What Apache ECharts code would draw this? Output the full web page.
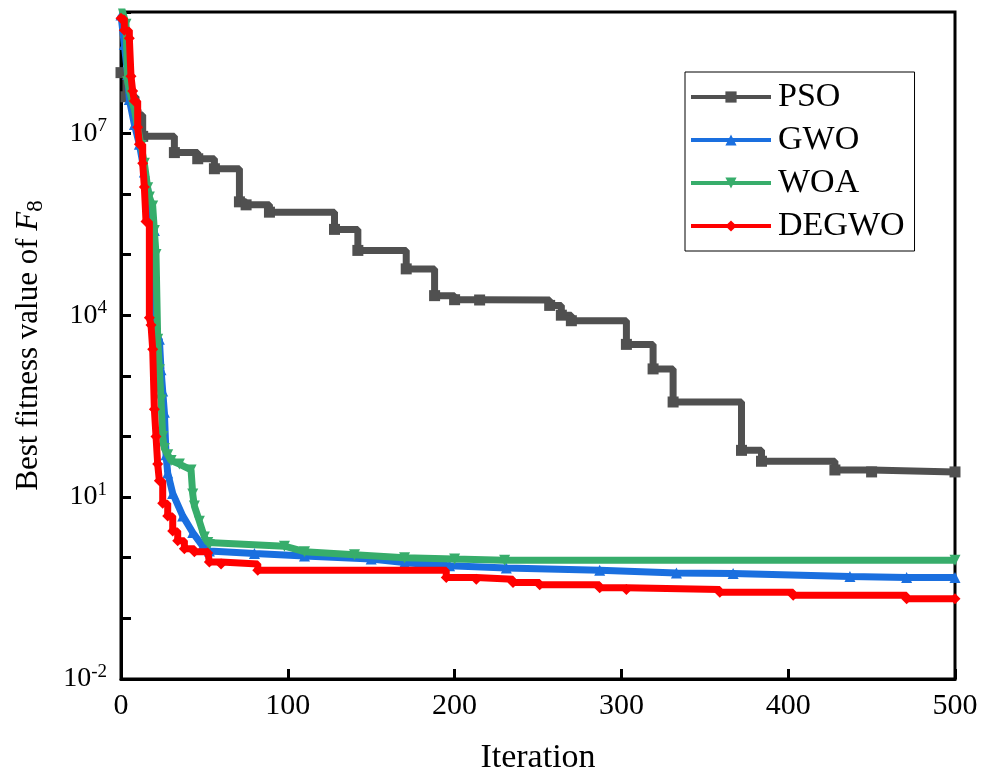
<!DOCTYPE html>
<html><head><meta charset="utf-8">
<script src="https://cdn.jsdelivr.net/npm/echarts@6/dist/echarts.min.js"></script>
<style>html,body{margin:0;padding:0;background:#fff}#c{width:992px;height:780px}</style>
</head><body><div id="c"></div>
<script>
// [iteration, best fitness] read at change points
const psoData = [[0,1.0e8],[3,4.0e7],[9,2.0e7],[13,8.9e6],[32,4.8e6],[46,3.8e6],[56,2.6e6],[71,7.4e5],[75,6.6e5],[89,5.0e5],[128,2.6e5],[142,1.17e5],[171,5.8e4],[188,2.1e4],[200,1.8e4],[215,1.78e4],[257,1.45e4],[264,1.0e4],[270,8.1e3],[303,3.3e3],[319,1.3e3],[331,370],[372,59],[384,39],[428,28],[450,26],[500,26]];
const gwoData = [[0,8.9e8],[2,2.9e8],[4,9.3e7],[5,3.6e7],[8,1.4e7],[11,6.6e6],[14,2.3e6],[16,1.2e6],[19,2.7e5],[20,2.5e5],[21,4.3e3],[23,4.0e3],[24,1260],[25,560],[26,250],[27,50],[28,25],[31,11.5],[37,4.9],[43,2.6],[49,1.55],[53,1.29],[80,1.17],[110,1.07],[150,0.95],[170,0.83],[197,0.74],[231,0.68],[287,0.62],[333,0.56],[367,0.55],[437,0.49],[471,0.47],[500,0.47]];
const woaData = [[0,1.26e9],[3,6.3e8],[4,7.1e7],[6,4.0e7],[8,2.5e7],[12,6.3e6],[14,3.2e6],[16,1.26e6],[17,8.9e5],[19,6.3e5],[20,2.5e5],[21,1.0e5],[22,4.0e3],[23,1260],[24,400],[25,100],[26,63],[28,50],[30,40],[35,35],[42,28],[43,11.2],[44,7.1],[47,4.0],[50,2.2],[52,1.78],[53,1.66],[98,1.55],[110,1.26],[140,1.12],[170,1.0],[200,0.95],[230,0.91],[500,0.91]];
const degwoData = [[0,7.9e8],[2,5.0e8],[5,3.7e8],[6,8.7e7],[7,5.0e7],[8,3.4e7],[10,1.26e7],[11,6.6e6],[13,3.2e6],[14,1.3e6],[15,3.5e5],[17,9.1e3],[18,6.9e3],[19,2.75e3],[20,280],[21,100],[22,35],[23,18.6],[25,7.9],[28,4.9],[31,2.75],[34,1.9],[38,1.41],[44,1.26],[52,1.2],[53,0.85],[60,0.79],[82,0.62],[195,0.47],[213,0.44],[235,0.39],[251,0.36],[287,0.32],[303,0.30],[359,0.27],[403,0.24],[471,0.21],[500,0.21]];
const seriesNames = ['PSO','GWO','WOA','DEGWO'];
const seriesColors = ['#505050','#1a6fdf','#37ad6b','#ff0000'];
const seriesSymbols = ['rect','triangle','triangle','diamond'];
const seriesRot = [0,0,180,0];
const seriesStep = ['end',false,false,'end'];
const allData = [psoData, gwoData, woaData, degwoData];
const xTicks = [0,100,200,300,400,500];

const font = 'Liberation Serif, Times New Roman, serif';
const chart = echarts.init(document.getElementById('c'), null, {renderer:'canvas'});
chart.setOption({
  animation:false,
  backgroundColor:'#fff',
  textStyle:{fontFamily:font},
  grid:{left:121, right:37, top:12, bottom:96, show:true, borderColor:'#000', borderWidth:3},
  legend:{
    left:685, top:72, orient:'vertical', data:seriesNames,
    borderColor:'#000', borderWidth:1, borderRadius:0, padding:[8,10,8,4],
    itemWidth:80, itemHeight:14, itemGap:9,
    lineStyle:{width:4},
    textStyle:{fontFamily:font, fontSize:34, color:'#000', padding:[0,0,0,2]}
  },
  xAxis:{
    type:'value', min:xTicks[0], max:xTicks[xTicks.length-1], interval:100,
    name:'Iteration', nameLocation:'middle', nameGap:62,
    nameTextStyle:{fontFamily:font, fontSize:34, color:'#000'},
    axisLine:{show:true, lineStyle:{color:'#000', width:3}},
    axisTick:{show:true, inside:true, length:10, lineStyle:{color:'#000', width:3}},
    axisLabel:{fontFamily:font, fontSize:30, color:'#000', margin:12},
    splitLine:{show:false}
  },
  yAxis:{
    type:'log', logBase:10, min:1e-2, max:1e9, interval:1,
    name:'{a|Best fitness value of }{i|F}{s|8}', nameLocation:'middle', nameGap:74,
    nameTextStyle:{fontFamily:font, fontSize:31, color:'#000',
      rich:{a:{fontFamily:font,fontSize:31,color:'#000'},
            i:{fontFamily:font,fontSize:31,fontStyle:'italic',color:'#000'},
            s:{fontFamily:font,fontSize:23,color:'#000',padding:[14,0,0,0]}}},
    axisLine:{show:true, lineStyle:{color:'#000', width:3}},
    axisTick:{show:true, inside:true, length:10, lineStyle:{color:'#000', width:3}},
    axisLabel:{color:'#000', margin:14,
      formatter:function(v){
        const e = Math.round(Math.log10(v));
        if ((e + 2) % 3 !== 0) return '';
        return '{b|10}{s|' + e + '}';
      },
      rich:{b:{fontFamily:font,fontSize:28,color:'#000'},
            s:{fontFamily:font,fontSize:19,color:'#000',padding:[0,0,14,0]}}},
    splitLine:{show:false}
  },
  series: seriesNames.map((n,i)=>({
    name:n, type:'line', step:seriesStep[i], data:allData[i],
    symbol:seriesSymbols[i], symbolRotate:seriesRot[i], symbolSize:11,
    showAllSymbol:true,
    lineStyle:{color:seriesColors[i], width:7},
    itemStyle:{color:seriesColors[i]},
    z:2+i
  }))
});
</script></body></html>
